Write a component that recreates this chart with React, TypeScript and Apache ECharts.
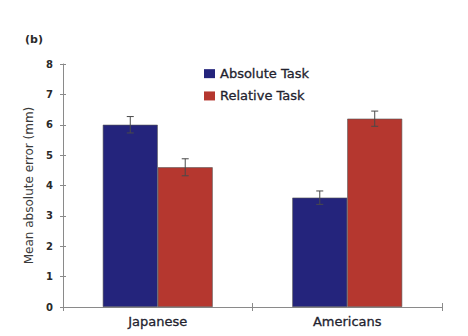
import React, { useEffect, useRef } from "react";
import * as echarts from "echarts";

const categories = ["Japanese", "Americans"];
const seriesNames = ["Absolute Task", "Relative Task"];
const absoluteValues = [6.0, 3.6];
const relativeValues = [4.6, 6.2];
const absoluteErrors = [0.27, 0.22];
const relativeErrors = [0.28, 0.25];
const yTicks = [0, 1, 2, 3, 4, 5, 6, 7, 8];

const BLUE = "#24247c";
const RED = "#b5372f";
const BAR_FRAC = 0.29;
const FONT = "DejaVu Sans, Liberation Sans, Arial, sans-serif";

export default function App() {
  const ref = useRef<HTMLDivElement>(null);
  useEffect(() => {
    if (!ref.current) return;
    const chart = echarts.init(ref.current, null, { renderer: "svg" });
    const errData: number[][] = [];
    categories.forEach((_, i) => {
      errData.push([i, 0, absoluteValues[i], absoluteErrors[i]]);
      errData.push([i, 1, relativeValues[i], relativeErrors[i]]);
    });
    const axisLine = { show: true, lineStyle: { color: "#8a8a8a", width: 1 } };
    chart.setOption({
      animation: false,
      textStyle: { fontFamily: FONT },
      grid: { left: 63, right: 26, top: 64, bottom: 29, containLabel: false },
      title: {
        text: "(b)",
        left: 20,
        top: 29,
        textStyle: { fontSize: 11, fontWeight: "bold", color: "#2a2a2a", fontFamily: FONT },
      },
      legend: {
        data: seriesNames,
        orient: "vertical",
        left: 199,
        top: 62,
        itemWidth: 11,
        itemHeight: 9,
        itemGap: 9,
        icon: "rect",
        itemStyle: { borderWidth: 0 },
        textStyle: {
          fontSize: 13,
          color: "#22222e",
          fontFamily: FONT,
          textBorderColor: "#22222e",
          textBorderWidth: 0.3,
        },
      },
      xAxis: [
        {
          type: "category",
          data: categories,
          axisLine,
          axisTick: { show: true, length: 4, lineStyle: { color: "#8a8a8a" } },
          axisLabel: {
            fontSize: 13,
            color: "#22222e",
            margin: 8,
            fontFamily: FONT,
            textBorderColor: "#22222e",
            textBorderWidth: 0.3,
          },
        },
        {
          type: "category",
          data: categories,
          position: "bottom",
          axisLine: { show: false },
          axisTick: { show: true, inside: true, length: 4, lineStyle: { color: "#8a8a8a" } },
          axisLabel: { show: false },
        },
      ],
      yAxis: [
        {
          type: "value",
          min: 0,
          max: 8,
          interval: 1,
          splitLine: { show: false },
          axisLine,
          axisTick: { show: true, length: 3, lineStyle: { color: "#8a8a8a" } },
          axisLabel: {
            fontSize: 10,
            fontWeight: "bold",
            color: "#2a2a2a",
            margin: 10,
            fontFamily: FONT,
            formatter: (v: number) => (yTicks.includes(v) ? String(v) : ""),
          },
          name: "Mean absolute error (mm)",
          nameLocation: "middle",
          nameGap: 26,
          nameRotate: 90,
          nameTextStyle: { fontSize: 12, color: "#3a3a3a", fontFamily: FONT },
        },
        {
          type: "value",
          min: 0,
          max: 8,
          interval: 1,
          position: "left",
          splitLine: { show: false },
          axisLine: { show: false },
          axisTick: { show: true, inside: true, length: 3, lineStyle: { color: "#8a8a8a" } },
          axisLabel: { show: false },
        },
      ],
      series: [
        {
          name: seriesNames[0],
          type: "bar",
          data: absoluteValues,
          barWidth: BAR_FRAC * 100 + "%",
          barGap: "0%",
          itemStyle: { color: BLUE, borderColor: "#555", borderWidth: 0.6 },
        },
        {
          name: seriesNames[1],
          type: "bar",
          data: relativeValues,
          barWidth: BAR_FRAC * 100 + "%",
          barGap: "0%",
          itemStyle: { color: RED, borderColor: "#555", borderWidth: 0.6 },
        },
        {
          type: "custom",
          data: errData,
          z: 10,
          renderItem: (params: any, api: any) => {
            const ci = api.value(0);
            const si = api.value(1);
            const v = api.value(2);
            const e = api.value(3);
            const band = api.size([1, 0])[0];
            const bw = band * BAR_FRAC;
            const center = api.coord([ci, 0])[0];
            const x = center + (si === 0 ? -bw / 2 : bw / 2);
            const top = api.coord([ci, v + e])[1];
            const bot = api.coord([ci, v - e])[1];
            const cap = 3.5;
            const style = { stroke: "#4a4a4a", lineWidth: 1 };
            return {
              type: "group",
              children: [
                { type: "line", shape: { x1: x, y1: top, x2: x, y2: bot }, style },
                { type: "line", shape: { x1: x - cap, y1: top, x2: x + cap, y2: top }, style },
                { type: "line", shape: { x1: x - cap, y1: bot, x2: x + cap, y2: bot }, style },
              ],
            };
          },
        },
      ],
    });
    return () => chart.dispose();
  }, []);
  return (
    <div
      ref={ref}
      style={{ position: "fixed", left: 0, top: 0, width: 468, height: 336, background: "#fff" }}
    />
  );
}
